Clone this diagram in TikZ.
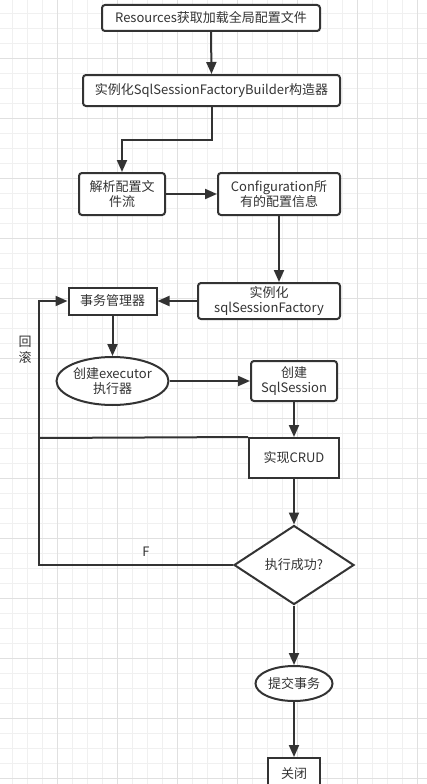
\documentclass[tikz,border=0pt]{standalone}
\usepackage{fontspec}
\setmainfont{Noto Sans CJK SC}
\usetikzlibrary{arrows.meta,shapes.geometric}
\definecolor{ink}{HTML}{333333}
\definecolor{gridminor}{HTML}{F0F0F0}
\definecolor{gridmajor}{HTML}{E0E0E0}
\begin{document}
\begin{tikzpicture}[x=1pt,y=-1pt,
  every node/.style={font=\fontsize{13}{15.5}\selectfont, text=ink},
  base/.style={draw=ink, line width=2pt, fill=white, align=center, inner sep=0pt},
  rbox/.style={base, rectangle, rounded corners=3pt},
  sbox/.style={base, rectangle},
  ell/.style={base, ellipse},
  dia/.style={base, diamond},
  conn/.style={draw=ink, line width=2pt, -{Triangle[length=12pt,width=10pt]}},
  plainline/.style={draw=ink, line width=2pt},
  lbl/.style={inner sep=0pt}
]
\useasboundingbox (0,0) rectangle (427,784);
\clip (0,0) rectangle (427,784);
\fill[white] (0,0) rectangle (427,784);
% grid
\foreach \x in {12,27,...,422} \draw[gridminor, line width=0.8pt] (\x,0) -- (\x,784);
\foreach \y in {13,28,...,783} \draw[gridminor, line width=0.8pt] (0,\y) -- (427,\y);
\foreach \x in {57,117,...,417} \draw[gridmajor, line width=0.8pt] (\x,0) -- (\x,784);
\foreach \y in {58,118,...,778} \draw[gridmajor, line width=0.8pt] (0,\y) -- (427,\y);

% nodes
\node[rbox, minimum width=218pt, minimum height=26pt] (n1) at (211,18) {Resources获取加载全局配置文件};
\node[rbox, minimum width=257pt, minimum height=31pt] (n2) at (211.5,90.5) {实例化SqlSessionFactoryBuilder构造器};
\node[rbox, minimum width=86pt, minimum height=42pt] (n3) at (122,194) {解析配置文\\件流};
\node[rbox, minimum width=122pt, minimum height=42pt] (n4) at (279,194) {Configuration所\\有的配置信息};
\node[rbox, minimum width=142pt, minimum height=36pt] (n5) at (269,301) {实例化\\sqlSessionFactory};
\node[sbox, minimum width=88pt, minimum height=27pt] (n6) at (112.5,301) {事务管理器};
\node[ell, minimum width=112pt, minimum height=48pt] (n7) at (112.5,381) {创建executor\\执行器};
\node[rbox, minimum width=86pt, minimum height=40pt] (n8) at (294,381) {创建\\SqlSession};
\node[sbox, minimum width=90pt, minimum height=40pt] (n9) at (294,458) {实现CRUD};
\node[dia, minimum width=120pt, minimum height=79pt] (n10) at (294,565) {执行成功?};
\node[ell, minimum width=77pt, minimum height=35pt] (n11) at (294,683.5) {提交事务};
\node[sbox, minimum width=52pt, minimum height=32pt] (n12) at (294,774) {关闭};

% labels
\node[lbl] (lf) at (146,552) {F};
\node[lbl] (lr1) at (25,342) {回};
\node[lbl] (lr2) at (25,358) {滚};

% connectors
\coordinate (b23) at (122,140);
\coordinate (fbx) at (39,438);
\draw[conn] (n1.south) -- (n2.north);
\draw[conn] (n2.south) |- (b23) -- (n3.north);
\draw[conn] (n3.east) -- (n4.west);
\draw[conn] (n4.south) -- (n4.south |- n5.north);
\draw[conn] (n5.west) -- (n6.east);
\draw[conn] (n6.south) -- (n7.north);
\draw[conn] (n7.east) -- (n8.west);
\draw[conn] (n8.south) -- (n9.north);
\draw[conn] (n9.south) -- (n10.north);
\draw[conn] (n10.south) -- (n11.north);
\draw[conn] (n11.south) -- (n12.north);
\draw[conn] (n10.west) -| (fbx) |- (n6.west);
\draw[plainline] (fbx) -- (n9.north west);
\end{tikzpicture}
\end{document}
